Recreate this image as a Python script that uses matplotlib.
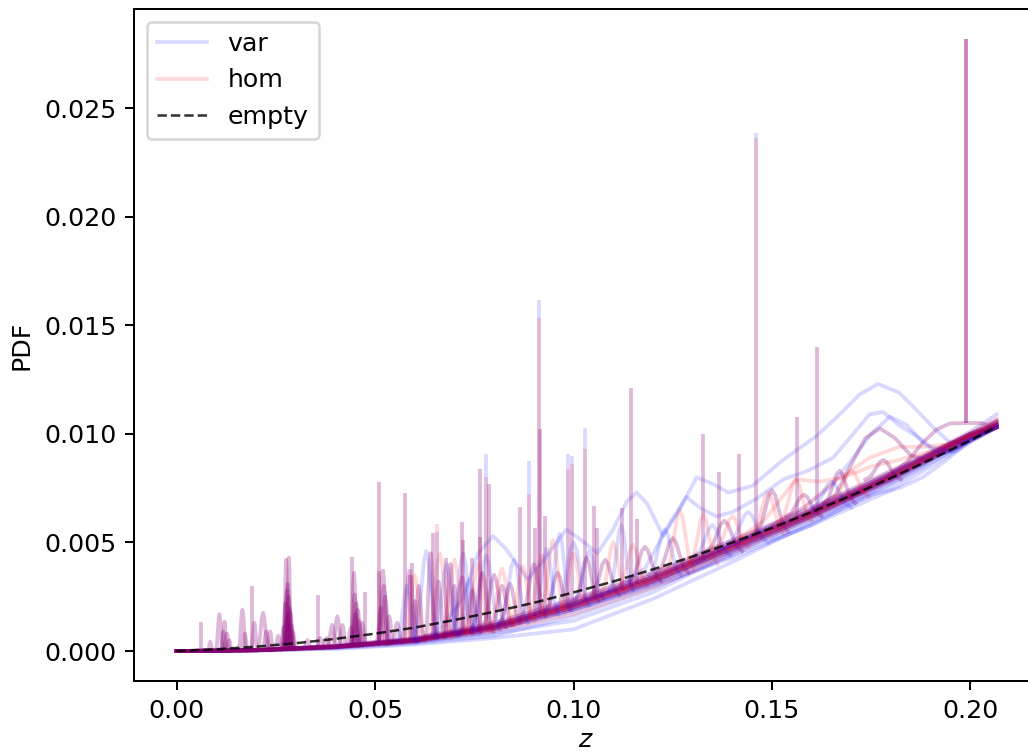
import numpy as np
import matplotlib
matplotlib.use("Agg")
import matplotlib.pyplot as plt

# reference curve for the empty box (dashed)
z_empty = [0.0, 0.01, 0.02, 0.03, 0.04, 0.05, 0.06, 0.07, 0.08, 0.09, 0.10,
           0.11, 0.12, 0.13, 0.14, 0.15, 0.16, 0.17, 0.18, 0.19, 0.20, 0.2066]
pdf_empty = [0.0, 0.00008, 0.0002, 0.00036, 0.00056, 0.0008, 0.00108, 0.00143,
             0.00181, 0.00222, 0.0027, 0.0032, 0.00376, 0.00435, 0.005, 0.00567,
             0.0064, 0.00716, 0.00797, 0.00882, 0.0097, 0.01033]

# smooth part of each run (shared z grid)
band_z = [0.0, 0.02, 0.04, 0.06, 0.08, 0.10, 0.12, 0.14, 0.16, 0.18, 0.20, 0.2066]
band_var = [
    [0, 0.00004, 0.0002, 0.0005, 0.0011, 0.0021, 0.0033, 0.0048, 0.0063, 0.0080, 0.0099, 0.0103],
    [0, 0.00003, 0.00015, 0.0004, 0.0009, 0.0018, 0.0031, 0.0046, 0.0062, 0.0079, 0.0098, 0.0103],
    [0, 0.00002, 0.0001, 0.0003, 0.0006, 0.0010, 0.0024, 0.0041, 0.0059, 0.0076, 0.0097, 0.0103],
    [0, 0.00005, 0.00025, 0.0006, 0.0013, 0.0024, 0.0036, 0.0051, 0.0066, 0.0083, 0.0100, 0.0105],
    [0, 0.00004, 0.0002, 0.00048, 0.0010, 0.0019, 0.0030, 0.0043, 0.0058, 0.0074, 0.0096, 0.0103],
    [0, 0.00004, 0.0002, 0.00052, 0.0012, 0.0022, 0.0034, 0.0049, 0.0064, 0.0081, 0.0101, 0.0109],
    [0, 0.00003, 0.00018, 0.00045, 0.0008, 0.0014, 0.0027, 0.0045, 0.0061, 0.0078, 0.0098, 0.0104],
    [0, 0.00004, 0.00022, 0.00055, 0.0012, 0.0023, 0.0035, 0.0050, 0.0065, 0.0082, 0.0100, 0.0104],
    [0, 0.00003, 0.00012, 0.00035, 0.0007, 0.0016, 0.0029, 0.0044, 0.0060, 0.0077, 0.0097, 0.0103],
    [0, 0.00004, 0.0002, 0.0005, 0.0011, 0.0020, 0.0032, 0.0047, 0.0063, 0.0080, 0.0099, 0.0104],
    [0, 0.00004, 0.00019, 0.00048, 0.00105, 0.0020, 0.0032, 0.0047, 0.0062, 0.0079, 0.0098, 0.0103],
    [0, 0.00004, 0.00021, 0.00052, 0.00115, 0.0022, 0.0034, 0.0049, 0.0064, 0.0081, 0.0100, 0.0105],
    [0, 0.00003, 0.00017, 0.00044, 0.0010, 0.0019, 0.0031, 0.0046, 0.0062, 0.0079, 0.0099, 0.0104],
    [0, 0.00005, 0.00023, 0.00056, 0.0012, 0.0022, 0.0034, 0.0049, 0.0065, 0.0082, 0.0100, 0.0104],
    [0, 0.00004, 0.0002, 0.0005, 0.0011, 0.0021, 0.0033, 0.0048, 0.0064, 0.0081, 0.0100, 0.0106],
]
band_hom = [
    [0, 0.00004, 0.0002, 0.0005, 0.0011, 0.0021, 0.0033, 0.0048, 0.0063, 0.0080, 0.0099, 0.0103],
    [0, 0.00004, 0.00022, 0.00055, 0.0012, 0.0022, 0.0034, 0.0049, 0.0064, 0.0081, 0.0100, 0.0104],
    [0, 0.00003, 0.00017, 0.00045, 0.0010, 0.0019, 0.0031, 0.0046, 0.0062, 0.0079, 0.0098, 0.0103],
    [0, 0.00004, 0.0002, 0.0005, 0.00115, 0.0023, 0.0035, 0.0050, 0.0065, 0.0082, 0.0100, 0.0106],
    [0, 0.00003, 0.00016, 0.0004, 0.0009, 0.0017, 0.0029, 0.0045, 0.0061, 0.0078, 0.0098, 0.0103],
    [0, 0.00004, 0.00021, 0.00052, 0.0011, 0.0021, 0.0034, 0.0049, 0.0064, 0.0081, 0.0099, 0.0104],
    [0, 0.00004, 0.0002, 0.00048, 0.00105, 0.0020, 0.0032, 0.0047, 0.0062, 0.0079, 0.0099, 0.0103],
    [0, 0.00005, 0.00024, 0.0006, 0.0013, 0.0024, 0.0036, 0.0051, 0.0066, 0.0083, 0.0101, 0.0107],
    [0, 0.00003, 0.00018, 0.00046, 0.0010, 0.0020, 0.0032, 0.0047, 0.0063, 0.0080, 0.0099, 0.0103],
    [0, 0.00004, 0.0002, 0.0005, 0.0011, 0.0021, 0.0033, 0.0048, 0.0063, 0.0080, 0.0099, 0.0104],
    [0, 0.00004, 0.00019, 0.00049, 0.00108, 0.0021, 0.0033, 0.0048, 0.0063, 0.0080, 0.0099, 0.0103],
    [0, 0.00004, 0.00021, 0.00053, 0.00118, 0.0022, 0.0034, 0.0049, 0.0065, 0.0082, 0.0100, 0.0105],
    [0, 0.00003, 0.00018, 0.00046, 0.00102, 0.0020, 0.0032, 0.0047, 0.0062, 0.0080, 0.0099, 0.0104],
    [0, 0.00004, 0.00022, 0.00054, 0.0012, 0.0022, 0.0034, 0.0049, 0.0064, 0.0081, 0.0100, 0.0104],
    [0, 0.00004, 0.0002, 0.0005, 0.0011, 0.0021, 0.0033, 0.0048, 0.0064, 0.0081, 0.0100, 0.0105],
]

# runs that wander well above the band
wave_var = [
    ([0.060, 0.066, 0.072, 0.076, 0.0797, 0.083, 0.0885, 0.093, 0.0982, 0.102, 0.106,
      0.110, 0.1135, 0.1159, 0.1185, 0.1226, 0.127, 0.131, 0.135, 0.139, 0.145, 0.1528,
      0.1612, 0.1671, 0.172, 0.1767, 0.182, 0.1864, 0.1906, 0.1948, 0.200, 0.2066],
     [0.0005, 0.0009, 0.0024, 0.0045, 0.0053, 0.0047, 0.0033, 0.0043, 0.0056, 0.0051, 0.0045,
      0.0056, 0.0069, 0.0073, 0.0068, 0.0053, 0.0066, 0.0080, 0.0077, 0.0073, 0.0076, 0.0088,
      0.0099, 0.0109, 0.0118, 0.0123, 0.0119, 0.0111, 0.0103, 0.0096, 0.0097, 0.0104]),
    ([0.100, 0.110, 0.118, 0.124, 0.1284, 0.1318, 0.136, 0.140, 0.146, 0.1528, 0.159,
      0.1654, 0.170, 0.1746, 0.178, 0.182, 0.1864, 0.190, 0.195, 0.200, 0.2066],
     [0.0021, 0.0028, 0.0038, 0.0058, 0.0071, 0.0066, 0.0062, 0.0064, 0.0070, 0.0079, 0.0083,
      0.0089, 0.0099, 0.0109, 0.0110, 0.0104, 0.0099, 0.0094, 0.0092, 0.0098, 0.0104]),
    ([0.130, 0.140, 0.150, 0.158, 0.165, 0.170, 0.175, 0.1797, 0.184, 0.188, 0.192, 0.196,
      0.200, 0.2066],
     [0.0040, 0.0049, 0.0058, 0.0066, 0.0076, 0.0088, 0.0100, 0.0108, 0.0104, 0.0096, 0.0091,
      0.0092, 0.0097, 0.0103]),
    ([0.150, 0.160, 0.168, 0.175, 0.182, 0.188, 0.194, 0.200, 0.2066],
     [0.0051, 0.0058, 0.0066, 0.0072, 0.0075, 0.0080, 0.0088, 0.0097, 0.0103]),
]
wave_hom = [
    ([0.150, 0.158, 0.165, 0.1746, 0.182, 0.188, 0.194, 0.200, 0.2066],
     [0.0058, 0.0066, 0.0077, 0.0089, 0.0094, 0.0094, 0.0095, 0.0099, 0.0104]),
    ([0.140, 0.148, 0.156, 0.162, 0.168, 0.175, 0.182, 0.190, 0.200, 0.2066],
     [0.0050, 0.0060, 0.0079, 0.0078, 0.0080, 0.0085, 0.0088, 0.0092, 0.0099, 0.0105]),
]
# runs present in both sets (hump near 0.177, plateau under the tallest spike)
wave_shared = [
    ([0.160, 0.166, 0.170, 0.1735, 0.1772, 0.181, 0.185, 0.189, 0.193, 0.197, 0.2066],
     [0.0064, 0.0072, 0.0086, 0.0098, 0.01025, 0.0098, 0.0090, 0.0088, 0.0091, 0.0094, 0.0103]),
    ([0.170, 0.178, 0.184, 0.188, 0.1915, 0.1948, 0.1988, 0.2025, 0.2045, 0.2066],
     [0.0071, 0.0079, 0.0087, 0.0096, 0.0102, 0.01048, 0.0105, 0.0105, 0.0104, 0.0106]),
]

# rounded humps: centre, half width, foot level, top
hump_shared_z = [0.0085, 0.0108, 0.0118, 0.0121, 0.0127, 0.0133, 0.0166, 0.0172, 0.0196,
                 0.0218, 0.0226, 0.0236, 0.0256, 0.0270, 0.0274, 0.0276, 0.0278, 0.0279,
                 0.0280, 0.0282, 0.0283, 0.0285, 0.0286, 0.0288, 0.0293, 0.0330, 0.0362,
                 0.0378, 0.0392, 0.0405, 0.0418, 0.0440, 0.0447, 0.0449, 0.0450, 0.0453,
                 0.0456, 0.0460, 0.0468, 0.0515, 0.0520, 0.0522, 0.0526, 0.0536, 0.0556,
                 0.0587, 0.0600, 0.0610, 0.0640, 0.0660, 0.0690, 0.0700, 0.0720, 0.0745,
                 0.0770, 0.0800, 0.0820, 0.0840, 0.0900, 0.0960, 0.1033, 0.1080, 0.1180,
                 0.1250, 0.1380, 0.1500, 0.1580, 0.1670, 0.1780]
hump_shared_hw = [0.0006, 0.0009, 0.0007, 0.0006, 0.0008, 0.0006, 0.0010, 0.0008, 0.0008,
                  0.0014, 0.0010, 0.0008, 0.0008, 0.0009, 0.0008, 0.0006, 0.0010, 0.0012,
                  0.0009, 0.0010, 0.0006, 0.0010, 0.0012, 0.0011, 0.0009, 0.0010, 0.0009,
                  0.0010, 0.0012, 0.0012, 0.0010, 0.0012, 0.0008, 0.0009, 0.0011, 0.0009,
                  0.0012, 0.0010, 0.0009, 0.0012, 0.0012, 0.0013, 0.0011, 0.0010, 0.0012,
                  0.0020, 0.0012, 0.0013, 0.0013, 0.0015, 0.0014, 0.0015, 0.0025, 0.0022,
                  0.0028, 0.0030, 0.0025, 0.0025, 0.0030, 0.0030, 0.0030, 0.0035, 0.0040,
                  0.0040, 0.0045, 0.0040, 0.0045, 0.0040, 0.0045]
hump_shared_foot = [0.00001, 0.00002, 0.00002, 0.00002, 0.00002, 0.00002, 0.00003, 0.00003, 0.00004,
                    0.00005, 0.00005, 0.00006, 0.00007, 0.00008, 0.00008, 0.00009, 0.00009, 0.00009,
                    0.00009, 0.0001, 0.0001, 0.0001, 0.0001, 0.0001, 0.0001, 0.00013, 0.00016,
                    0.00018, 0.0002, 0.0002, 0.00022, 0.00025, 0.00026, 0.00027, 0.00027, 0.00027,
                    0.00028, 0.00028, 0.0003, 0.00034, 0.00035, 0.00035, 0.00036, 0.00038, 0.0004,
                    0.00048, 0.0005, 0.00052, 0.0006, 0.00064, 0.0007, 0.00075, 0.0008, 0.0009,
                    0.0009, 0.0011, 0.0012, 0.0013, 0.0016, 0.0019, 0.0023, 0.0026, 0.0032,
                    0.0036, 0.0046, 0.0055, 0.0062, 0.0068, 0.0079]
hump_shared_top = [0.00043, 0.0017, 0.0009, 0.00135, 0.0008, 0.0005, 0.0019, 0.0008, 0.0013,
                   0.00176, 0.0009, 0.0009, 0.0007, 0.0011, 0.0022, 0.0042, 0.0028, 0.0016,
                   0.0031, 0.0025, 0.0043, 0.0020, 0.0018, 0.0012, 0.0009, 0.0005, 0.0006,
                   0.0006, 0.0012, 0.0016, 0.0012, 0.0011, 0.0036, 0.0026, 0.0017, 0.0022,
                   0.0019, 0.0014, 0.0013, 0.0020, 0.0037, 0.0030, 0.0025, 0.0016, 0.0013,
                   0.0037, 0.0023, 0.0030, 0.0045, 0.0032, 0.0040, 0.0030, 0.0034, 0.0028,
                   0.0036, 0.0035, 0.0030, 0.0031, 0.0040, 0.0036, 0.0043, 0.0042, 0.0048,
                   0.0052, 0.0060, 0.0074, 0.0072, 0.0083, 0.0088]

hump_var_z = [0.0580, 0.0629, 0.0680, 0.0722, 0.0738, 0.0780, 0.0850, 0.0932, 0.0965, 0.1000,
              0.1040, 0.1120, 0.1230, 0.1350, 0.1440, 0.1650]
hump_var_hw = [0.0025, 0.0030, 0.0030, 0.0030, 0.0025, 0.0035, 0.0035, 0.0030, 0.0030, 0.0040,
               0.0035, 0.0030, 0.0040, 0.0045, 0.0050, 0.0050]
hump_var_foot = [0.0004, 0.0006, 0.0007, 0.0008, 0.0008, 0.0010, 0.0013, 0.0017, 0.0019, 0.0021,
                 0.0024, 0.0028, 0.0035, 0.0044, 0.0050, 0.0066]
hump_var_top = [0.0030, 0.0046, 0.0040, 0.0045, 0.0033, 0.0044, 0.0042, 0.0047, 0.0054, 0.0050,
                0.0046, 0.0058, 0.0056, 0.0058, 0.0064, 0.0078]

hump_hom_z = [0.0600, 0.0663, 0.0700, 0.0760, 0.0820, 0.0872, 0.0920, 0.0948, 0.1000, 0.1100,
              0.1150, 0.1268, 0.1327, 0.1400, 0.1490, 0.1560, 0.1700]
hump_hom_hw = [0.0025, 0.0030, 0.0030, 0.0030, 0.0030, 0.0030, 0.0030, 0.0030, 0.0030, 0.0030,
               0.0035, 0.0035, 0.0035, 0.0040, 0.0040, 0.0040, 0.0045]
hump_hom_foot = [0.0005, 0.0006, 0.0008, 0.0009, 0.0012, 0.0014, 0.0017, 0.0018, 0.0021, 0.0027,
                 0.0030, 0.0037, 0.0040, 0.0048, 0.0054, 0.0060, 0.0071]
hump_hom_top = [0.0035, 0.0045, 0.0042, 0.0040, 0.0038, 0.0039, 0.0044, 0.0051, 0.0045, 0.0050,
                0.0049, 0.0065, 0.0063, 0.0062, 0.0073, 0.0079, 0.0083]

# narrow resonance spikes: position, foot, peak for var and hom
spike_z = [0.0062, 0.0189, 0.0356, 0.0442, 0.0476, 0.0509, 0.0511, 0.0575, 0.0589, 0.0593,
           0.0646, 0.0655, 0.0680, 0.0719, 0.0721, 0.0744, 0.0764, 0.0765, 0.0779, 0.0787,
           0.0864, 0.0888, 0.0904, 0.0913, 0.0915, 0.0927, 0.0986, 0.0997, 0.1028, 0.1051,
           0.1059, 0.1121, 0.1145, 0.1160, 0.1327, 0.1366, 0.1417, 0.1459, 0.1563, 0.1613,
           0.1988, 0.1988]
spike_foot = [0.00001, 0.00004, 0.00015, 0.00025, 0.0003, 0.00035, 0.00035, 0.00045, 0.00048, 0.0005,
              0.0006, 0.0006, 0.00065, 0.0008, 0.0008, 0.0009, 0.0009, 0.0009, 0.001, 0.001,
              0.0014, 0.0015, 0.0016, 0.0017, 0.0017, 0.0017, 0.0020, 0.0021, 0.0023, 0.0024,
              0.0025, 0.0028, 0.0030, 0.0031, 0.0042, 0.0045, 0.0049, 0.0052, 0.0060, 0.0064,
              0.0105, 0.0105]
spike_var = [0.00135, 0.0030, 0.00258, 0.00434, 0.00273, 0.0078, 0.0037, 0.00726, 0.0035, 0.00407,
             0.00545, 0.0055, 0.0043, 0.00595, 0.0051, 0.0043, 0.00526, 0.00837, 0.00907, 0.00769,
             0.00662, 0.00876, 0.00566, 0.01616, 0.01022, 0.0062, 0.00907, 0.0090, 0.01028, 0.0067,
             0.00566, 0.0066, 0.01212, 0.0061, 0.00999, 0.00824, 0.00908, 0.02385, 0.01079, 0.01398,
             0.0282, 0.0282]
spike_hom = [0.00135, 0.0030, 0.00258, 0.00434, 0.00273, 0.0078, 0.0037, 0.00726, 0.0035, 0.00407,
             0.00545, 0.00585, 0.0043, 0.00595, 0.0051, 0.0043, 0.00526, 0.00837, 0.00803, 0.00769,
             0.00662, 0.00721, 0.00566, 0.01533, 0.01022, 0.0062, 0.0084, 0.0086, 0.0093, 0.0067,
             0.00566, 0.0066, 0.01212, 0.0061, 0.00999, 0.00824, 0.00908, 0.0236, 0.01079, 0.01398,
             0.0282, 0.0282]

ALPHA = 0.15
LW = 1.5
VAR_C, HOM_C = "blue", "red"
HUMP_OFFSETS = np.array([-1.0, -0.7, -0.45, -0.2, 0.0, 0.2, 0.45, 0.7, 1.0])
HUMP_SHAPE = np.array([0.0, 0.15, 0.5, 0.88, 1.0, 0.88, 0.5, 0.15, 0.0])


def line(ax, zs, ys, color, label=None):
    ax.plot(zs, ys, color=color, alpha=ALPHA, lw=LW, label=label)


def hump(ax, zc, hw, foot, top, color):
    line(ax, zc + hw * HUMP_OFFSETS, foot + (top - foot) * HUMP_SHAPE, color)


fig = plt.figure(figsize=(1028 / 182, 752 / 182), dpi=182)
ax = fig.add_axes([0.1304, 0.0944, 0.8793, 0.8936])

# runs are drawn var/hom alternately so overlaps mix to purple
for i, (yv, yh) in enumerate(zip(band_var, band_hom)):
    line(ax, band_z, yv, VAR_C, "var" if i == 0 else None)
    line(ax, band_z, yh, HOM_C, "hom" if i == 0 else None)

for zs, ys in wave_var:
    line(ax, zs, ys, VAR_C)
for zs, ys in wave_hom:
    line(ax, zs, ys, HOM_C)
for zs, ys in wave_shared:
    line(ax, zs, ys, VAR_C)
    line(ax, zs, ys, HOM_C)

for zc, hw, foot, top in zip(hump_shared_z, hump_shared_hw, hump_shared_foot, hump_shared_top):
    hump(ax, zc, hw, foot, top, VAR_C)
    hump(ax, zc, hw, foot, top, HOM_C)
for zc, hw, foot, top in zip(hump_var_z, hump_var_hw, hump_var_foot, hump_var_top):
    hump(ax, zc, hw, foot, top, VAR_C)
for zc, hw, foot, top in zip(hump_hom_z, hump_hom_hw, hump_hom_foot, hump_hom_top):
    hump(ax, zc, hw, foot, top, HOM_C)

ax.vlines(spike_z, spike_foot, spike_var, colors=VAR_C, alpha=ALPHA, lw=LW)
ax.vlines(spike_z, spike_foot, spike_hom, colors=HOM_C, alpha=ALPHA, lw=LW)

ax.plot(z_empty, pdf_empty, "--", color="k", alpha=0.8, lw=1.0, label="empty")

ax.set_xlim(-0.0107, 0.2170)
ax.set_ylim(-0.00138, 0.02956)
ax.set_xlabel("$z$", labelpad=2)
ax.set_ylabel("PDF")
ax.legend(loc="upper left")

fig.savefig("out.png", dpi=182)
